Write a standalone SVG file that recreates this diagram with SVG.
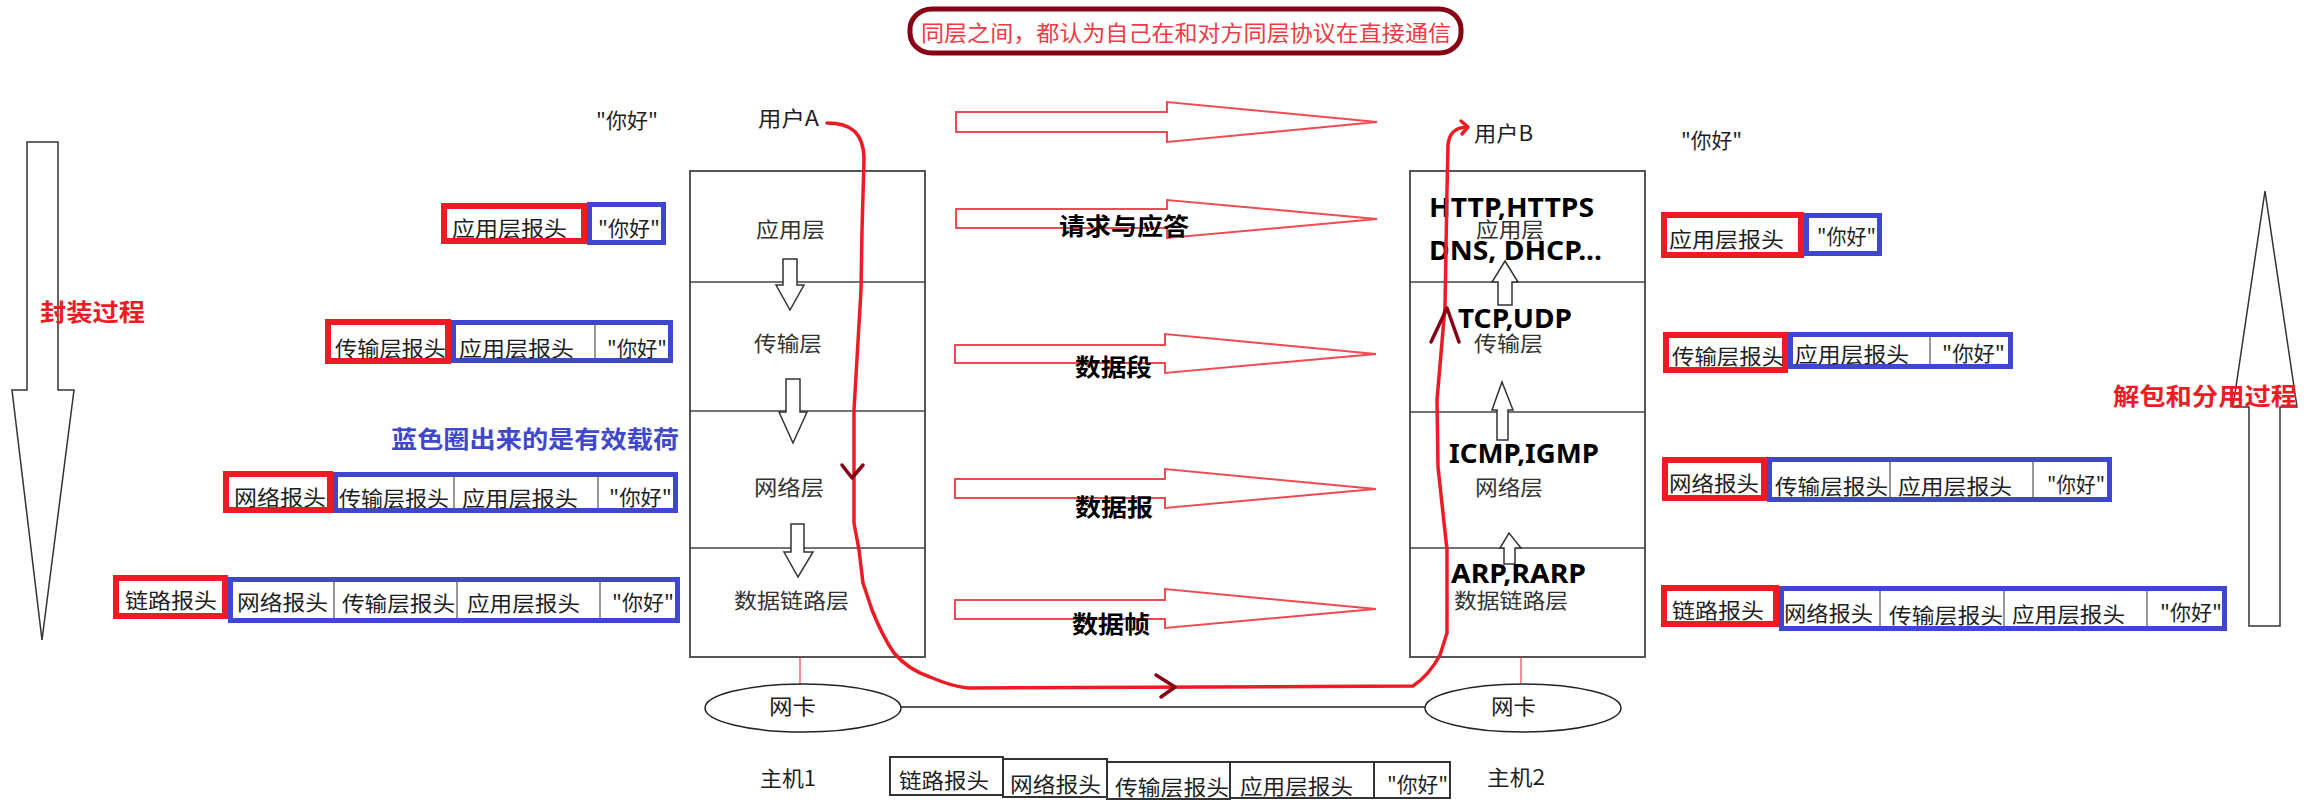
<svg xmlns="http://www.w3.org/2000/svg" width="2321" height="811" viewBox="0 0 2321 811">
<style>
text{font-family:"Noto Sans CJK SC","Noto Sans",sans-serif;fill:#1e1e1e;font-size:21px}
.g{fill:#333}
.bd{font-weight:bold;fill:#000}
.en{font-family:"Noto Sans","Noto Sans CJK SC",sans-serif;font-weight:bold;fill:#000;font-size:27px}
.red{stroke:#ED1C24;stroke-width:6;fill:none}
.blue{stroke:#3F48CC;stroke-width:5;fill:none}
.cell{stroke:#777;stroke-width:1.5;fill:none}
.peer{fill:none;stroke:#f04a52;stroke-width:2}
.hollow{fill:#fff;stroke:#333;stroke-width:1.5}
.box{fill:#fff;stroke:#555;stroke-width:2}
.div{stroke:#444;stroke-width:1.5}
.flow{fill:none;stroke:#ED1C24;stroke-width:3.5;stroke-linecap:round;stroke-linejoin:round}
.chev{fill:none;stroke:#880015;stroke-width:3.5;stroke-linecap:round;stroke-linejoin:round}
</style>

<g id="title">
<rect x="910" y="9" width="551" height="44" rx="22" ry="20" fill="#fff" stroke="#880015" stroke-width="5"/>
<text x="921" y="41" textLength="530" lengthAdjust="spacingAndGlyphs" style="fill:#ee3b45;font-size:22px">同层之间，都认为自己在和对方同层协议在直接通信</text>
</g>

<g id="encap-arrow">
<path class="hollow" d="M27,142 H58 V390 H74 L42,640 L12,390 H27 Z"/>
<text x="40" y="321" textLength="105" lengthAdjust="spacingAndGlyphs" style="fill:#ED1C24;font-weight:bold;font-size:24px">封装过程</text>
</g>

<g id="decap-arrow">
<path class="hollow" d="M2249,626 V407 H2233 L2265,191 L2297,407 H2280 V626 Z"/>
<text x="2113" y="405" textLength="184" lengthAdjust="spacingAndGlyphs" style="fill:#ED1C24;font-weight:bold;font-size:24px">解包和分用过程</text>
</g>

<g id="payload-note">
<text x="391" y="448" textLength="288" lengthAdjust="spacingAndGlyphs" style="fill:#3F48CC;font-weight:bold;font-size:24px">蓝色圈出来的是有效载荷</text>
</g>

<g id="user-a">
<text x="596" y="128" textLength="62" lengthAdjust="spacingAndGlyphs">"你好"</text>
<text x="758" y="126" textLength="61" lengthAdjust="spacingAndGlyphs">用户A</text>
</g>
<g id="user-b">
<text x="1474" y="141" textLength="59" lengthAdjust="spacingAndGlyphs">用户B</text>
<text x="1681" y="148" textLength="61" lengthAdjust="spacingAndGlyphs">"你好"</text>
</g>

<g id="host1">
<rect class="box" x="690" y="171" width="235" height="486"/>
<line class="div" x1="690" y1="282" x2="925" y2="282"/>
<line class="div" x1="690" y1="411" x2="925" y2="411"/>
<line class="div" x1="690" y1="548" x2="925" y2="548"/>
<text class="g" x="756" y="237" textLength="69" lengthAdjust="spacingAndGlyphs">应用层</text>
<text class="g" x="754" y="351" textLength="68" lengthAdjust="spacingAndGlyphs">传输层</text>
<text class="g" x="754" y="495" textLength="70" lengthAdjust="spacingAndGlyphs">网络层</text>
<text class="g" x="734" y="608" textLength="115" lengthAdjust="spacingAndGlyphs">数据链路层</text>
<path class="hollow" d="M783,259 H797 V285 H804 L790,310 L776,285 H783 Z"/>
<path class="hollow" d="M786,379 H800 V412 H807 L793,443 L779,412 H786 Z"/>
<path class="hollow" d="M791,524 H804 V552 H813 L798,577 L784,552 H791 Z"/>
<text x="760" y="786" textLength="56" lengthAdjust="spacingAndGlyphs">主机1</text>
</g>

<g id="host2">
<rect class="box" x="1410" y="171" width="235" height="486"/>
<line class="div" x1="1410" y1="282" x2="1645" y2="282"/>
<line class="div" x1="1410" y1="412" x2="1645" y2="412"/>
<line class="div" x1="1410" y1="548" x2="1645" y2="548"/>
<path class="hollow" d="M1498,305 V282 H1492 L1505,261 L1518,282 H1512 V305 Z"/>
<path class="hollow" d="M1497,440 V410 H1492 L1502,382 L1513,410 H1508 V440 Z"/>
<path class="hollow" d="M1504,564 V548 H1500 L1509,533 L1521,548 H1515 V564 Z"/>
<text class="g" x="1476" y="237" textLength="68" lengthAdjust="spacingAndGlyphs">应用层</text>
<text class="en" x="1429" y="217" textLength="165" lengthAdjust="spacingAndGlyphs">HTTP,HTTPS</text>
<text class="en" x="1429" y="260" textLength="173" lengthAdjust="spacingAndGlyphs">DNS, DHCP...</text>
<text class="en" x="1458" y="328" textLength="114" lengthAdjust="spacingAndGlyphs">TCP,UDP</text>
<text class="g" x="1474" y="351" textLength="69" lengthAdjust="spacingAndGlyphs">传输层</text>
<text class="en" x="1449" y="463" textLength="150" lengthAdjust="spacingAndGlyphs">ICMP,IGMP</text>
<text class="g" x="1475" y="495" textLength="68" lengthAdjust="spacingAndGlyphs">网络层</text>
<text class="en" x="1451" y="583" textLength="135" lengthAdjust="spacingAndGlyphs">ARP,RARP</text>
<text class="g" x="1454" y="608" textLength="114" lengthAdjust="spacingAndGlyphs">数据链路层</text>
<text x="1487" y="785" textLength="58" lengthAdjust="spacingAndGlyphs">主机2</text>
</g>

<g id="nic1">
<line x1="800" y1="657" x2="800" y2="684" stroke="#ED1C24" stroke-width="1"/>
<ellipse cx="803" cy="708" rx="98" ry="24" fill="#fff" stroke="#222" stroke-width="1.5"/>
<text x="769" y="714" textLength="47" lengthAdjust="spacingAndGlyphs">网卡</text>
</g>
<g id="nic2">
<line x1="1521" y1="657" x2="1521" y2="683" stroke="#ED1C24" stroke-width="1"/>
<ellipse cx="1523" cy="708" rx="98" ry="24" fill="#fff" stroke="#222" stroke-width="1.5"/>
<text x="1491" y="714" textLength="45" lengthAdjust="spacingAndGlyphs">网卡</text>
</g>

<g id="connectors">
<line x1="901" y1="707" x2="1425" y2="707" stroke="#222" stroke-width="1.5"/>
<path class="peer" d="M956,112 H1167 V102 L1377,122 L1167,142 V132 H956 Z"/>
<path class="peer" d="M956,209 H1167 V200 L1377,219 L1167,238 V228 H956 Z"/>
<path class="peer" d="M955,345 H1165 V334 L1376,354 L1165,373 V363 H955 Z"/>
<path class="peer" d="M955,479 H1165 V469 L1376,489 L1165,508 V498 H955 Z"/>
<path class="peer" d="M955,600 H1165 V589 L1376,609 L1165,628 V619 H955 Z"/>
<text class="bd" x="1059" y="235" textLength="130" lengthAdjust="spacingAndGlyphs" style="font-size:24px">请求与应答</text>
<text class="bd" x="1075" y="376" textLength="77" lengthAdjust="spacingAndGlyphs" style="font-size:24px">数据段</text>
<text class="bd" x="1075" y="516" textLength="78" lengthAdjust="spacingAndGlyphs" style="font-size:24px">数据报</text>
<text class="bd" x="1072" y="633" textLength="78" lengthAdjust="spacingAndGlyphs" style="font-size:24px">数据帧</text>
<path class="flow" d="M827,123 C850,123 864,132 864,160 L862,230 L861,290 L854,410 L854,523 L859,550 L863,583 L872,610 C880,630 887,643 894,653 C905,666 918,673 930,677 C944,683 955,687 968,688 L1413,686 C1425,678 1433,668 1440,655 L1447,633 L1447,550 L1438,467 L1437,400 L1445,307 L1447,190 L1448,145 C1449,133 1455,128 1466,127"/>
<path class="flow" d="M1461,121 L1468,127 L1462,134"/>
<path class="chev" d="M842,465 L852,478 L863,465"/>
<path class="chev" d="M1156,675 L1175,687 L1161,697"/>
<path class="chev" d="M1431,342 L1447,308 L1459,342"/>
</g>

<g id="packet-l1">
<line class="cell" x1="444" y1="241" x2="584" y2="241"/>
<rect class="red" x="444" y="206" width="140" height="35"/>
<rect class="blue" x="589.5" y="204.5" width="74" height="38"/>
<text x="452" y="236" textLength="115" lengthAdjust="spacingAndGlyphs">应用层报头</text>
<text x="598" y="236" textLength="62" lengthAdjust="spacingAndGlyphs">"你好"</text>
</g>
<g id="packet-l2">
<line class="cell" x1="595" y1="322" x2="595" y2="361"/>
<rect class="red" x="328" y="322" width="120" height="39"/>
<rect class="blue" x="453.5" y="322.5" width="217" height="38"/>
<text x="335" y="356" textLength="111" lengthAdjust="spacingAndGlyphs">传输层报头</text>
<text x="459" y="356" textLength="115" lengthAdjust="spacingAndGlyphs">应用层报头</text>
<text x="607" y="356" textLength="60" lengthAdjust="spacingAndGlyphs">"你好"</text>
</g>
<g id="packet-l3">
<line class="cell" x1="454" y1="474" x2="454" y2="511"/>
<line class="cell" x1="598" y1="474" x2="598" y2="511"/>
<rect class="red" x="226" y="474" width="104" height="36"/>
<rect class="blue" x="335.5" y="474.5" width="340" height="36"/>
<text x="234" y="505" textLength="92" lengthAdjust="spacingAndGlyphs">网络报头</text>
<text x="339" y="506" textLength="110" lengthAdjust="spacingAndGlyphs">传输层报头</text>
<text x="462" y="506" textLength="116" lengthAdjust="spacingAndGlyphs">应用层报头</text>
<text x="609" y="505" textLength="63" lengthAdjust="spacingAndGlyphs">"你好"</text>
</g>
<g id="packet-l4">
<line class="cell" x1="334" y1="580" x2="334" y2="620"/>
<line class="cell" x1="457" y1="580" x2="457" y2="620"/>
<line class="cell" x1="600" y1="580" x2="600" y2="620"/>
<rect class="red" x="116" y="578" width="109" height="38"/>
<rect class="blue" x="230.5" y="579.5" width="447" height="41"/>
<text x="125" y="608" textLength="92" lengthAdjust="spacingAndGlyphs">链路报头</text>
<text x="237" y="610" textLength="91" lengthAdjust="spacingAndGlyphs">网络报头</text>
<text x="342" y="611" textLength="113" lengthAdjust="spacingAndGlyphs">传输层报头</text>
<text x="467" y="611" textLength="113" lengthAdjust="spacingAndGlyphs">应用层报头</text>
<text x="612" y="610" textLength="62" lengthAdjust="spacingAndGlyphs">"你好"</text>
</g>

<g id="packet-r1">
<rect class="red" x="1664" y="215" width="137" height="40"/>
<rect class="blue" x="1806.5" y="215.5" width="73" height="38"/>
<text x="1669" y="247" textLength="115" lengthAdjust="spacingAndGlyphs">应用层报头</text>
<text x="1817" y="244" textLength="59" lengthAdjust="spacingAndGlyphs">"你好"</text>
</g>
<g id="packet-r2">
<line class="cell" x1="1930" y1="335" x2="1930" y2="367"/>
<rect class="red" x="1666" y="335" width="119" height="35"/>
<rect class="blue" x="1790.5" y="334.5" width="220" height="32"/>
<text x="1672" y="364" textLength="112" lengthAdjust="spacingAndGlyphs">传输层报头</text>
<text x="1795" y="362" textLength="114" lengthAdjust="spacingAndGlyphs">应用层报头</text>
<text x="1942" y="361" textLength="63" lengthAdjust="spacingAndGlyphs">"你好"</text>
</g>
<g id="packet-r3">
<line class="cell" x1="1890" y1="460" x2="1890" y2="500"/>
<line class="cell" x1="2033" y1="460" x2="2033" y2="500"/>
<rect class="red" x="1665" y="460" width="99" height="38"/>
<rect class="blue" x="1769.5" y="459.5" width="340" height="40"/>
<text x="1669" y="491" textLength="90" lengthAdjust="spacingAndGlyphs">网络报头</text>
<text x="1775" y="494" textLength="113" lengthAdjust="spacingAndGlyphs">传输层报头</text>
<text x="1898" y="494" textLength="114" lengthAdjust="spacingAndGlyphs">应用层报头</text>
<text x="2047" y="492" textLength="58" lengthAdjust="spacingAndGlyphs">"你好"</text>
</g>
<g id="packet-r4">
<line class="cell" x1="1880" y1="589" x2="1880" y2="629"/>
<line class="cell" x1="2004" y1="589" x2="2004" y2="629"/>
<line class="cell" x1="2147" y1="589" x2="2147" y2="629"/>
<rect class="red" x="1664" y="588" width="112" height="36"/>
<rect class="blue" x="1781.5" y="588.5" width="443" height="40"/>
<text x="1672" y="618" textLength="92" lengthAdjust="spacingAndGlyphs">链路报头</text>
<text x="1784" y="621" textLength="89" lengthAdjust="spacingAndGlyphs">网络报头</text>
<text x="1889" y="623" textLength="114" lengthAdjust="spacingAndGlyphs">传输层报头</text>
<text x="2012" y="622" textLength="113" lengthAdjust="spacingAndGlyphs">应用层报头</text>
<text x="2160" y="620" textLength="62" lengthAdjust="spacingAndGlyphs">"你好"</text>
</g>

<g id="packet-wire">
<rect x="890" y="757" width="113" height="38" fill="#fff" stroke="#333" stroke-width="2"/>
<rect x="1003" y="759" width="104" height="38" fill="#fff" stroke="#333" stroke-width="2"/>
<rect x="1107" y="762" width="123" height="37" fill="#fff" stroke="#333" stroke-width="2"/>
<rect x="1230" y="762" width="144" height="36" fill="#fff" stroke="#333" stroke-width="2"/>
<rect x="1374" y="762" width="76" height="36" fill="#fff" stroke="#333" stroke-width="2"/>
<text x="899" y="788" textLength="90" lengthAdjust="spacingAndGlyphs">链路报头</text>
<text x="1010" y="792" textLength="91" lengthAdjust="spacingAndGlyphs">网络报头</text>
<text x="1115" y="795" textLength="114" lengthAdjust="spacingAndGlyphs">传输层报头</text>
<text x="1240" y="794" textLength="113" lengthAdjust="spacingAndGlyphs">应用层报头</text>
<text x="1387" y="792" textLength="61" lengthAdjust="spacingAndGlyphs">"你好"</text>
</g>
</svg>
